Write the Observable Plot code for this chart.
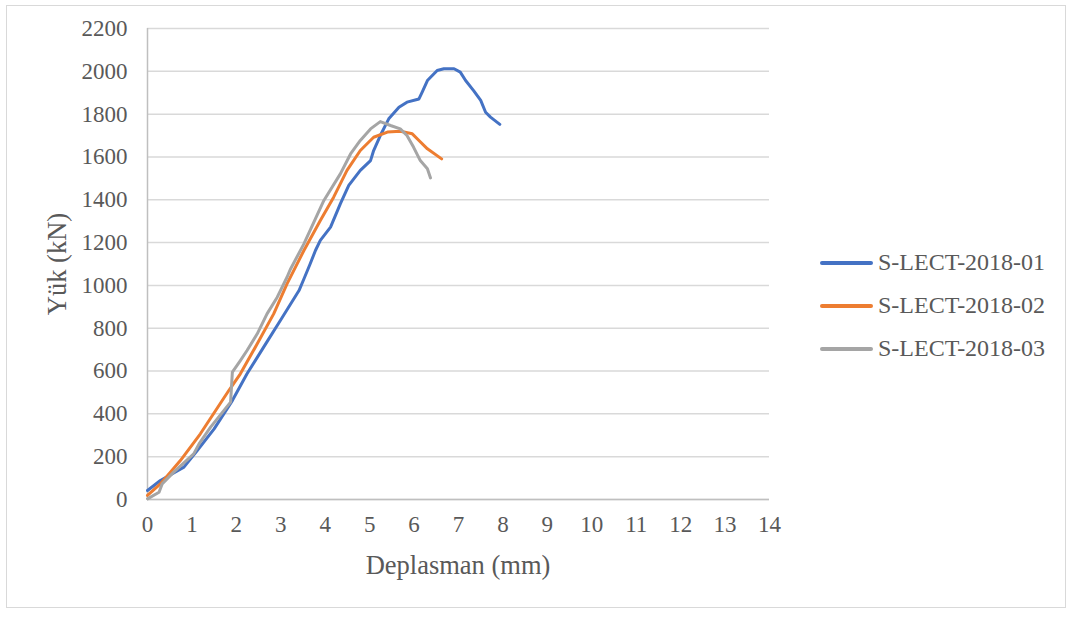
<!DOCTYPE html>
<html>
<head>
<meta charset="utf-8">
<script src="https://cdn.jsdelivr.net/npm/d3@7"></script>
<script src="https://cdn.jsdelivr.net/npm/@observablehq/plot@0.6"></script>
<style>
  html, body { margin: 0; padding: 0; background: #fff; }
  #wrap { position: relative; width: 1073px; height: 617px; font-family: "Liberation Serif", "Times New Roman", serif; color: #595959; }
  #frame { position: absolute; left: 6px; top: 5px; width: 1060px; height: 603px; border: 1px solid #d9d9d9; box-sizing: border-box; }
  #chart { position: absolute; left: 0; top: 0; }
  .title { position: absolute; font-size: 26.5px; white-space: nowrap; }
  #ytitle { left: 57px; top: 264px; transform: translate(-50%, -50%) rotate(-90deg); }
  #xtitle { left: 458px; top: 565px; transform: translate(-50%, -50%); }
  #legend { position: absolute; left: 820px; top: 241px; font-size: 24px; }
  .item { display: flex; align-items: center; height: 43px; }
  .item svg { margin-right: 5px; }
</style>
</head>
<body>
<div id="wrap">
  <div id="frame"></div>
  <div id="chart"></div>
  <div class="title" id="ytitle">Yük (kN)</div>
  <div class="title" id="xtitle">Deplasman (mm)</div>
  <div id="legend"></div>
</div>
<script>
const seriesNames = ["S-LECT-2018-01", "S-LECT-2018-02", "S-LECT-2018-03"];
const seriesColors = ["#4472C4", "#ED7D31", "#A5A5A5"];

const xTicks = [0,1,2,3,4,5,6,7,8,9,10,11,12,13,14];
const yTicks = [0,200,400,600,800,1000,1200,1400,1600,1800,2000,2200];

// S-LECT-2018-01
const s1x = [0, 0.29, 0.82, 1.12, 1.50, 1.91, 2.24, 2.66, 2.99, 3.41, 3.52, 3.66, 3.78, 3.89, 4.12, 4.34, 4.53, 4.79, 5.02, 5.09, 5.24, 5.43, 5.66, 5.84, 6.11, 6.18, 6.30, 6.52, 6.67, 6.90, 7.04, 7.16, 7.34, 7.50, 7.61, 7.72, 7.93];
const s1y = [42, 89, 151, 229, 330, 462, 587, 727, 836, 976, 1030, 1100, 1163, 1210, 1272, 1381, 1467, 1537, 1583, 1630, 1700, 1778, 1832, 1856, 1871, 1902, 1957, 2004, 2012, 2012, 1996, 1957, 1910, 1864, 1809, 1786, 1752];

// S-LECT-2018-02
const s2x = [0, 0.29, 0.74, 1.19, 1.83, 2.09, 2.47, 2.84, 3.14, 3.52, 3.89, 4.19, 4.49, 4.79, 5.09, 5.40, 5.69, 5.96, 6.11, 6.30, 6.62];
const s2y = [19, 73, 182, 307, 509, 587, 727, 867, 1007, 1163, 1303, 1412, 1537, 1630, 1692, 1716, 1720, 1708, 1677, 1638, 1591];

// S-LECT-2018-03
const s3x = [0, 0.26, 0.33, 0.59, 1.04, 1.16, 1.42, 1.87, 1.91, 2.09, 2.24, 2.47, 2.69, 2.92, 3.14, 3.22, 3.52, 3.97, 4.34, 4.57, 4.79, 5.02, 5.24, 5.47, 5.69, 5.84, 5.99, 6.14, 6.30, 6.37];
const s3y = [3, 34, 73, 128, 213, 260, 338, 455, 595, 649, 696, 774, 867, 945, 1038, 1077, 1194, 1397, 1521, 1614, 1677, 1731, 1765, 1747, 1731, 1700, 1645, 1583, 1545, 1502];

const allX = [s1x, s2x, s3x];
const allY = [s1y, s2y, s3y];
const rows = [];
allX.forEach((xs, i) => xs.forEach((x, j) => rows.push({series: seriesNames[i], x, y: allY[i][j]})));

const plot = Plot.plot({
  width: 1073,
  height: 617,
  marginLeft: 147,
  marginRight: 304,
  marginTop: 28,
  marginBottom: 118,
  style: { fontFamily: "Liberation Serif, Times New Roman, serif", fontSize: "23px", color: "#595959", background: "transparent", overflow: "visible" },
  x: { domain: [0, 14], ticks: xTicks, tickSize: 0, tickPadding: 16, label: null, tickFormat: d => String(d) },
  y: { domain: [0, 2200], ticks: yTicks, tickSize: 0, tickPadding: 20, label: null, tickFormat: d => String(d) },
  color: { domain: seriesNames, range: seriesColors },
  marks: [
    Plot.gridY(yTicks, { stroke: "#d9d9d9", strokeOpacity: 1, strokeWidth: 1.5 }),
    Plot.ruleX([0], { stroke: "#bfbfbf", strokeWidth: 1.5 }),
    Plot.ruleY([0], { stroke: "#bfbfbf", strokeWidth: 1.5 }),
    Plot.line(rows, { x: "x", y: "y", z: "series", stroke: "series", strokeWidth: 3, strokeLinejoin: "round", strokeLinecap: "round" })
  ]
});
document.getElementById("chart").appendChild(plot);

const legend = document.getElementById("legend");
seriesNames.forEach((name, i) => {
  const item = document.createElement("div");
  item.className = "item";
  item.innerHTML = `<svg width="53" height="6"><line x1="2" y1="3" x2="51" y2="3" stroke="${seriesColors[i]}" stroke-width="4" stroke-linecap="round"/></svg><span>${name}</span>`;
  legend.appendChild(item);
});
</script>
</body>
</html>
